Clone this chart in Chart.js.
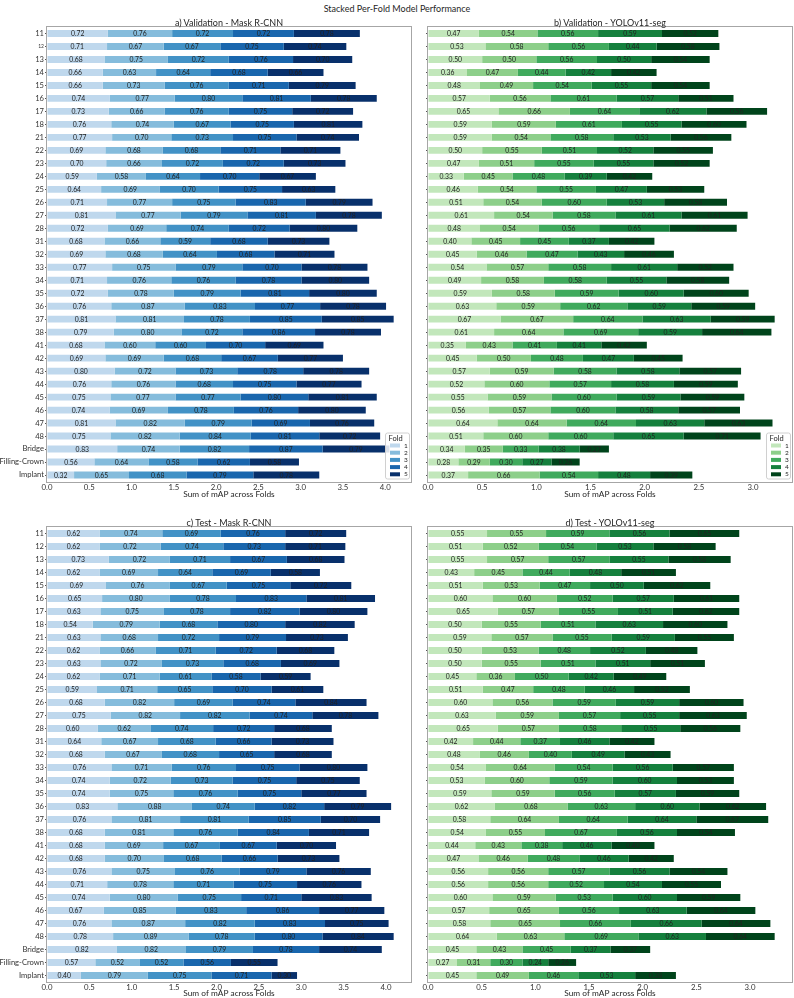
<!DOCTYPE html>
<html>
<head>
<meta charset="utf-8">
<script src="https://cdn.jsdelivr.net/npm/chart.js@4.4.1/dist/chart.umd.min.js"></script>
<style>
  body { margin: 0; background: #fff; width: 794px; height: 998px; overflow: hidden; position: relative; font-family: Lato, sans-serif; color: #262626; }
  canvas { position: absolute; left: 0; top: 0; }
  .ttl { position: absolute; font-size: 9px; line-height: 11px; text-align: center; white-space: nowrap; }
</style>
</head>
<body>
<div class="ttl" style="left:0;width:794px;top:2.5px">Stacked Per-Fold Model Performance</div>
<canvas id="c0" width="794" height="998"></canvas>
<canvas id="c1" width="794" height="998"></canvas>
<canvas id="c2" width="794" height="998"></canvas>
<canvas id="c3" width="794" height="998"></canvas>
<script>
// categories (teeth + extra classes)
const categories = ['11','12','13','14','15','16','17','18',
    '21','22','23','24','25','26','27','28',
    '31','32','33','34','35','36','37','38',
    '41','42','43','44','45','46','47','48',
    'Bridge','Filling-Crown','Implant'];
const foldLabels = ['1', '2', '3', '4', '5'];
const panelTitles = ['a) Validation - Mask R-CNN', 'b) Validation - YOLOv11-seg',
    'c) Test - Mask R-CNN', 'd) Test - YOLOv11-seg'];
const xAxisTitle = 'Sum of mAP across Folds';

// mAP per category, folds 1..5
const valMaskRcnn = [
    [0.72,0.76,0.72,0.72,0.78],[0.71,0.67,0.67,0.75,0.74],[0.68,0.75,0.72,0.76,0.70],[0.66,0.63,0.64,0.68,0.66],
    [0.66,0.73,0.76,0.71,0.79],[0.74,0.77,0.80,0.81,0.78],[0.73,0.66,0.76,0.75,0.72],[0.76,0.74,0.67,0.75,0.81],
    [0.77,0.70,0.73,0.75,0.74],[0.69,0.68,0.68,0.71,0.71],[0.70,0.66,0.72,0.72,0.73],[0.59,0.58,0.64,0.70,0.67],
    [0.64,0.69,0.70,0.75,0.63],[0.71,0.77,0.75,0.83,0.79],[0.81,0.77,0.79,0.81,0.78],[0.72,0.69,0.74,0.72,0.80],
    [0.68,0.66,0.59,0.68,0.73],[0.69,0.68,0.64,0.68,0.71],[0.77,0.75,0.79,0.70,0.78],[0.71,0.76,0.76,0.78,0.80],
    [0.72,0.78,0.79,0.81,0.80],[0.76,0.87,0.83,0.77,0.78],[0.81,0.81,0.78,0.85,0.85],[0.79,0.80,0.72,0.86,0.78],
    [0.68,0.60,0.60,0.70,0.69],[0.69,0.69,0.68,0.67,0.77],[0.80,0.72,0.73,0.78,0.78],[0.76,0.76,0.68,0.75,0.77],
    [0.75,0.77,0.77,0.80,0.81],[0.74,0.69,0.78,0.76,0.80],[0.81,0.82,0.79,0.69,0.76],[0.75,0.82,0.84,0.81,0.72],
    [0.83,0.74,0.82,0.87,0.79],[0.56,0.64,0.58,0.62,0.58],[0.32,0.65,0.68,0.79,0.78]
];
const valYolo = [
    [0.47,0.54,0.56,0.59,0.52],[0.53,0.58,0.56,0.44,0.58],[0.50,0.50,0.56,0.50,0.54],[0.36,0.47,0.44,0.42,0.42],
    [0.48,0.49,0.54,0.55,0.54],[0.57,0.56,0.61,0.57,0.51],[0.65,0.66,0.64,0.62,0.56],[0.59,0.59,0.61,0.55,0.60],
    [0.59,0.54,0.58,0.53,0.56],[0.50,0.55,0.51,0.52,0.55],[0.47,0.51,0.55,0.55,0.52],[0.33,0.45,0.48,0.39,0.42],
    [0.46,0.54,0.55,0.47,0.53],[0.51,0.54,0.60,0.53,0.58],[0.61,0.54,0.58,0.61,0.61],[0.48,0.54,0.56,0.65,0.62],
    [0.40,0.45,0.45,0.37,0.42],[0.45,0.46,0.47,0.43,0.46],[0.54,0.57,0.58,0.61,0.52],[0.49,0.58,0.58,0.55,0.58],
    [0.59,0.58,0.59,0.60,0.60],[0.63,0.59,0.62,0.59,0.59],[0.67,0.67,0.64,0.63,0.59],[0.61,0.64,0.69,0.59,0.64],
    [0.35,0.43,0.41,0.41,0.42],[0.45,0.50,0.48,0.47,0.45],[0.57,0.59,0.58,0.58,0.57],[0.52,0.60,0.57,0.58,0.59],
    [0.55,0.59,0.60,0.59,0.59],[0.56,0.57,0.60,0.58,0.57],[0.64,0.64,0.64,0.63,0.63],[0.51,0.60,0.60,0.65,0.71],
    [0.34,0.35,0.33,0.38,0.27],[0.28,0.29,0.30,0.27,0.26],[0.37,0.66,0.54,0.48,0.39]
];
const testMaskRcnn = [
    [0.62,0.74,0.69,0.76,0.72],[0.62,0.72,0.74,0.73,0.71],[0.73,0.72,0.71,0.67,0.68],[0.62,0.69,0.64,0.69,0.58],
    [0.69,0.76,0.67,0.75,0.72],[0.65,0.80,0.78,0.83,0.81],[0.63,0.75,0.78,0.82,0.80],[0.54,0.79,0.68,0.80,0.82],
    [0.63,0.68,0.72,0.79,0.73],[0.62,0.66,0.71,0.72,0.68],[0.63,0.72,0.73,0.68,0.69],[0.62,0.71,0.61,0.58,0.59],
    [0.59,0.71,0.65,0.70,0.61],[0.68,0.82,0.69,0.74,0.84],[0.75,0.82,0.82,0.74,0.78],[0.60,0.62,0.74,0.72,0.68],
    [0.64,0.67,0.68,0.66,0.73],[0.68,0.67,0.68,0.65,0.68],[0.76,0.71,0.76,0.75,0.80],[0.74,0.72,0.73,0.75,0.75],
    [0.74,0.75,0.76,0.75,0.77],[0.83,0.88,0.74,0.82,0.79],[0.76,0.81,0.81,0.85,0.70],[0.68,0.81,0.76,0.84,0.71],
    [0.68,0.69,0.67,0.67,0.70],[0.68,0.70,0.68,0.66,0.73],[0.76,0.75,0.76,0.79,0.76],[0.71,0.78,0.71,0.75,0.76],
    [0.74,0.80,0.75,0.71,0.83],[0.67,0.85,0.83,0.86,0.77],[0.76,0.87,0.82,0.83,0.75],[0.78,0.89,0.78,0.80,0.84],
    [0.82,0.82,0.79,0.78,0.74],[0.57,0.52,0.52,0.56,0.55],[0.40,0.79,0.75,0.71,0.30]
];
const testYolo = [
    [0.55,0.55,0.59,0.56,0.65],[0.51,0.52,0.54,0.53,0.58],[0.55,0.57,0.57,0.55,0.58],[0.43,0.45,0.44,0.48,0.51],
    [0.51,0.53,0.47,0.50,0.62],[0.60,0.60,0.52,0.57,0.61],[0.65,0.57,0.55,0.51,0.62],[0.50,0.55,0.51,0.63,0.60],
    [0.59,0.57,0.55,0.59,0.55],[0.50,0.53,0.48,0.52,0.48],[0.50,0.55,0.51,0.51,0.51],[0.45,0.36,0.50,0.42,0.49],
    [0.51,0.47,0.48,0.46,0.52],[0.60,0.56,0.59,0.59,0.60],[0.63,0.59,0.57,0.55,0.63],[0.65,0.57,0.58,0.55,0.56],
    [0.42,0.44,0.37,0.46,0.42],[0.48,0.46,0.40,0.49,0.43],[0.54,0.64,0.54,0.56,0.57],[0.53,0.60,0.59,0.60,0.53],
    [0.59,0.59,0.56,0.57,0.59],[0.62,0.68,0.63,0.60,0.62],[0.58,0.64,0.64,0.64,0.67],[0.54,0.55,0.67,0.56,0.54],
    [0.44,0.43,0.38,0.46,0.40],[0.47,0.46,0.48,0.46,0.42],[0.56,0.56,0.57,0.56,0.54],[0.56,0.56,0.52,0.54,0.55],
    [0.60,0.59,0.53,0.60,0.59],[0.57,0.65,0.56,0.63,0.64],[0.58,0.65,0.66,0.66,0.64],[0.64,0.63,0.69,0.63,0.64],
    [0.45,0.43,0.45,0.37,0.37],[0.27,0.31,0.30,0.24,0.26],[0.45,0.49,0.46,0.53,0.38]
];

const blues = ['#bfd8ed', '#85bcdc', '#4292c6', '#1966ad', '#08306b'];
const greens = ['#c2e7bb', '#8dcf8a', '#40aa5d', '#15803d', '#00441b'];

const FONT = 'Lato, "Noto Sans", sans-serif';
const W = 794, H = 998;

const panels = [
    { rows: valMaskRcnn, colors: blues, area: { left: 47, right: 411, top: 27, bottom: 481.5 }, yLabels: true, legend: true, xH: 17.5, tiny12: true },
    { rows: valYolo, colors: greens, area: { left: 428, right: 792, top: 27, bottom: 481.5 }, yLabels: false, legend: true, xH: 17.5 },
    { rows: testMaskRcnn, colors: blues, area: { left: 47, right: 411, top: 527, bottom: 982 }, yLabels: true, legend: false, xH: 16 },
    { rows: testYolo, colors: greens, area: { left: 428, right: 792, top: 527, bottom: 982 }, yLabels: false, legend: false, xH: 16 }
];

// box around plot area
const framePlugin = {
    id: 'frame',
    afterDatasetsDraw(chart) {
        const a = chart.chartArea, ctx = chart.ctx;
        ctx.save();
        ctx.strokeStyle = '#a6a6a6';
        ctx.lineWidth = 1;
        ctx.strokeRect(Math.round(a.left) - 0.5, Math.round(a.top) - 0.5, Math.round(a.right - a.left) + 1, Math.round(a.bottom - a.top) + 1);
        ctx.restore();
    }
};

// values written in the middle of each segment
const segLabelPlugin = {
    id: 'segLabels',
    afterDatasetsDraw(chart) {
        const ctx = chart.ctx;
        ctx.save();
        ctx.font = '6.8px ' + FONT;
        ctx.fillStyle = '#222';
        ctx.textAlign = 'center';
        ctx.textBaseline = 'middle';
        chart.data.datasets.forEach((ds, di) => {
            const meta = chart.getDatasetMeta(di);
            meta.data.forEach((bar, i) => {
                const p = bar.getProps(['x', 'base', 'y'], true);
                ctx.fillText(ds.data[i].toFixed(2), (p.x + p.base) / 2, p.y + 0.5);
            });
        });
        ctx.restore();
    }
};

// small "Fold" legend in the lower right corner
const foldLegendPlugin = {
    id: 'foldLegend',
    afterDraw(chart, args, opts) {
        if (!opts.show) return;
        const ctx = chart.ctx, a = chart.chartArea;
        const w = 24, h = 46;
        const x = a.right - 2 - w, y = a.bottom - 3 - h;
        ctx.save();
        ctx.fillStyle = 'rgba(255,255,255,0.85)';
        ctx.strokeStyle = '#d0d0d0';
        ctx.lineWidth = 1;
        ctx.beginPath();
        ctx.roundRect(x + 0.5, y + 0.5, w, h, 2);
        ctx.fill();
        ctx.stroke();
        ctx.fillStyle = '#262626';
        ctx.textBaseline = 'middle';
        ctx.textAlign = 'left';
        ctx.font = '7.5px ' + FONT;
        ctx.fillText('Fold', x + 3.5, y + 6);
        ctx.font = '6.5px ' + FONT;
        chart.data.datasets.forEach((ds, i) => {
            const sy = y + 13 + i * 7.2;
            ctx.fillStyle = ds.backgroundColor;
            ctx.fillRect(x + 5, sy - 2, 10, 4);
            ctx.fillStyle = '#262626';
            ctx.fillText(ds.label, x + 19, sy);
        });
        ctx.restore();
    }
};

panels.forEach((p, k) => {
    const yW = p.yLabels ? 47 : 6;
    const sums = p.rows.map(r => r.reduce((s, v) => s + v, 0));
    const xMax = Math.max(...sums) * 1.05;

    const datasets = foldLabels.map((f, i) => ({
        label: f,
        data: p.rows.map(r => r[i]),
        backgroundColor: p.colors[i],
        borderWidth: 0,
        barPercentage: 0.53,
        categoryPercentage: 1
    }));

    new Chart(document.getElementById('c' + k), {
        type: 'bar',
        data: { labels: categories, datasets: datasets },
        options: {
            indexAxis: 'y',
            responsive: false,
            animation: false,
            events: [],
            layout: {
                padding: {
                    left: p.area.left - yW,
                    right: W - p.area.right,
                    top: p.area.top,
                    bottom: H - p.area.bottom - p.xH
                }
            },
            plugins: {
                legend: { display: false },
                tooltip: { enabled: false },
                foldLegend: { show: p.legend }
            },
            scales: {
                x: {
                    type: 'linear',
                    stacked: true,
                    min: 0,
                    max: xMax,
                    border: { display: false },
                    grid: { drawOnChartArea: false, drawTicks: false },
                    ticks: {
                        stepSize: 0.5,
                        includeBounds: false,
                        maxRotation: 0,
                        padding: 1,
                        color: '#333',
                        font: { family: FONT, size: 7.8 },
                        callback: v => Number(v).toFixed(1)
                    },
                    title: {
                        display: true,
                        text: xAxisTitle,
                        color: '#262626',
                        padding: 0,
                        font: { family: FONT, size: 8.3 }
                    },
                    afterFit: s => { s.height = p.xH; }
                },
                y: {
                    type: 'category',
                    stacked: true,
                    offset: true,
                    border: { display: false },
                    grid: { drawOnChartArea: false, offset: false, tickLength: 2, tickColor: '#555' },
                    ticks: {
                        display: p.yLabels,
                        autoSkip: false,
                        padding: 1,
                        color: '#333',
                        font: ctx => ({ family: FONT, size: (p.tiny12 && ctx.tick && ctx.tick.label === '12') ? 5 : 7.6 })
                    },
                    afterFit: s => { s.width = yW; }
                }
            }
        },
        plugins: [framePlugin, segLabelPlugin, foldLegendPlugin]
    });

    // panel title above the plot area
    const t = document.createElement('div');
    t.className = 'ttl';
    t.style.left = p.area.left + 'px';
    t.style.width = (p.area.right - p.area.left) + 'px';
    t.style.top = (p.area.top - 10.5) + 'px';
    t.textContent = panelTitles[k];
    document.body.appendChild(t);
});
</script>
</body>
</html>
